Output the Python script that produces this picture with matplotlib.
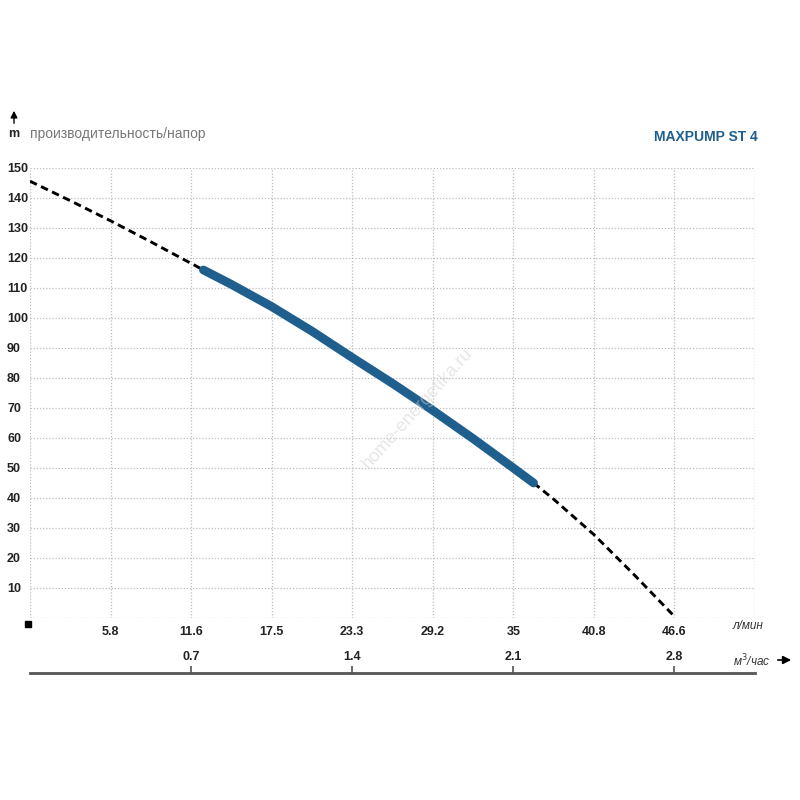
import matplotlib.pyplot as plt
from matplotlib.lines import Line2D

# flow in m3/h, head in m
q_left = [0.0, 0.175, 0.35, 0.525, 0.7, 0.7535]
h_left = [145.6, 139.1, 132.4, 125.4, 118.2, 116.0]

q_work = [0.7535, 0.875, 1.05, 1.225, 1.4, 1.575, 1.75, 1.925, 2.1, 2.188]
h_work = [116.0, 111.2, 103.8, 95.6, 86.8, 78.2, 69.2, 59.8, 50.0, 45.0]

q_right = [2.188, 2.275, 2.45, 2.625, 2.8]
h_right = [45.0, 39.6, 27.8, 14.4, 0.5]

grid_q = [0.35 * i for i in range(10)]
lmin_labels = ["", "5.8", "11.6", "17.5", "23.3", "29.2", "35", "40.8", "46.6", ""]
m3h_ticks = [0.7, 1.4, 2.1, 2.8]
m3h_labels = ["0.7", "1.4", "2.1", "2.8"]
head_ticks = list(range(10, 151, 10))

title = "MAXPUMP ST 4"
blue = "#1f5f8e"

plt.rcParams["font.family"] = ["Liberation Sans", "DejaVu Sans"]

fig = plt.figure(figsize=(8, 8), dpi=100)
ax = fig.add_axes([0.0375, 0.2275, 0.9063, 0.5625])
ax.set_xlim(0, 3.15)
ax.set_ylim(0, 150)

for s in ax.spines.values():
    s.set_visible(False)

# dotted grid incl. frame
grid_style = dict(color="#bdbdbd", lw=0.9, ls=(0, (1, 1.5)), zorder=0)
for q in grid_q:
    ax.axvline(q, **grid_style)
ax.axvline(3.15, **grid_style)
for h in [0] + head_ticks:
    ax.axhline(h, **grid_style)

# curve
ax.plot(q_left, h_left, color="black", lw=2.1, ls=(0, (2.6, 1.6)), zorder=2)
ax.plot(q_right, h_right, color="black", lw=2.1, ls=(0, (2.6, 1.6)), zorder=2)
ax.plot(q_work, h_work, color=blue, lw=6.3, solid_capstyle="round",
        solid_joinstyle="round", zorder=3)

# y ticks
ax.set_yticks(head_ticks)
ax.set_yticklabels([str(v) for v in head_ticks], fontsize=9, fontweight="bold", color="#222222")
ax.tick_params(axis="y", length=0, pad=16.5)
for lab in ax.get_yticklabels():
    lab.set_horizontalalignment("left")

# l/min row
ax.set_xticks(grid_q)
ax.set_xticklabels(lmin_labels, fontsize=9, fontweight="bold", color="#222222")
ax.tick_params(axis="x", length=0, pad=6)

# m3/h row: thin axes whose top spine is the lower scale line
ax2 = fig.add_axes([0.0375, 1 - 673 / 800 - 0.001, 0.9063, 0.001])
ax2.set_xlim(0, 3.15)
ax2.set_yticks([])
for k in ["bottom", "left", "right"]:
    ax2.spines[k].set_visible(False)
ax2.spines["top"].set_color("#555555")
ax2.spines["top"].set_linewidth(2)
ax2.xaxis.set_ticks_position("top")
ax2.set_xticks(m3h_ticks)
ax2.set_xticklabels(m3h_labels, fontsize=9, fontweight="bold", color="#222222")
ax2.tick_params(axis="x", direction="out", length=5, width=1.2, color="#555555", pad=2)
ax2.patch.set_visible(False)

# unit labels
fig.text(733 / 800, 1 - 626 / 800, "л/мин", fontsize=8.5, style="italic", color="#333333",
         ha="left", va="center")
fig.text(733 / 800, 1 - 661 / 800, "м$^3$/час", fontsize=8.5, style="italic", color="#333333",
         ha="left", va="center")
ax.annotate("", xy=(794 / 800, 1 - 660 / 800), xytext=(775 / 800, 1 - 660 / 800),
            xycoords="figure fraction",
            arrowprops=dict(arrowstyle="-|>", color="black", lw=1.2, mutation_scale=12))

# origin marker
fig.add_artist(Line2D([28 / 800], [1 - 624 / 800], marker="s", markersize=5, color="black"))

# header
fig.text(14 / 800, 1 - 134 / 800, "m", fontsize=9, fontweight="bold", color="#222222",
         ha="center", va="center")
ax.annotate("", xy=(14 / 800, 1 - 108 / 800), xytext=(14 / 800, 1 - 126 / 800),
            xycoords="figure fraction",
            arrowprops=dict(arrowstyle="-|>", color="black", lw=1.0, mutation_scale=10))
fig.text(30 / 800, 1 - 134 / 800, "производительность/напор", fontsize=10, color="#777777",
         ha="left", va="center")
fig.text(758 / 800, 1 - 137 / 800, title, fontsize=10, fontweight="bold", color=blue,
         ha="right", va="center")

# watermark
fig.text(418 / 800, 1 - 408 / 800, "home-energetika.ru", fontsize=13, color="#d0d0d0",
         alpha=0.5, rotation=48, ha="center", va="center")

fig.savefig("out.png", dpi=100)
